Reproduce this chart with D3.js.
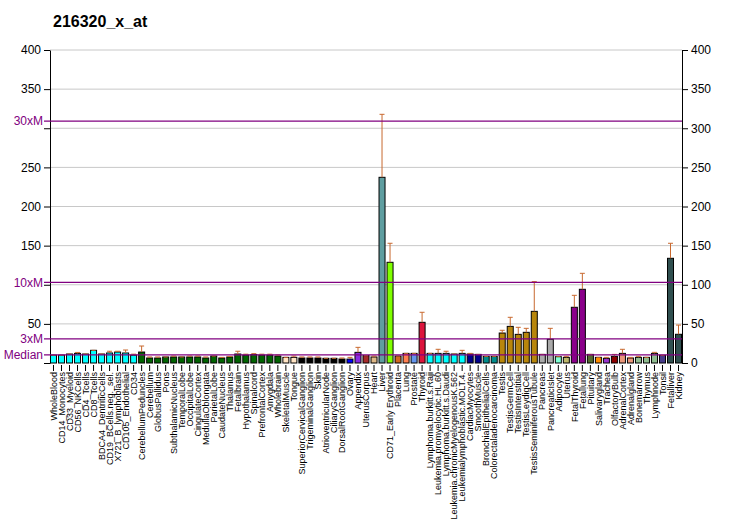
<!DOCTYPE html>
<html lang="en">
<head>
  <meta charset="UTF-8">
  <title>216320_x_at</title>
  <style>
    body {
      margin: 0;
      background: #fff;
      font-family: Arial, "Liberation Sans", sans-serif;
    }
    .tick text { font-family: Arial, "Liberation Sans", sans-serif; }
  </style>
</head>
<body>
  <svg id="chart"></svg>

  <script src="https://d3js.org/d3.v7.min.js"></script>
  <script>
    const tissues = [
      "WholeBlood", "CD14_Monocytes", "CD33_Myeloid", "CD56_NKCells", "CD4_Tcells", "CD8_Tcells",
      "BDCA4_DentriticCells", "CD19_BCells.neg._sel.", "X721_B_lymphoblasts", "CD105_Endothelial", "CD34",
      "CerebellumPeduncles", "Cerebellum", "GlobusPallidus", "Pons", "SubthalamicNucleus", "TemporalLobe",
      "OccipitalLobe", "CingulateCortex", "MedullaOblongata", "ParietalLobe", "CaudateNucleus", "Thalamus",
      "Fetalbrain", "Hypothalamus", "Spinalcord", "PrefrontalCortex", "Amygdala", "Wholebrain",
      "SkeletalMuscle", "Tongue", "SuperiorCervicalGanglion", "TrigeminalGanglion", "Skin",
      "AtrioventricularNode", "CiliaryGanglion", "DorsalRootGanglion", "Ovary", "Appendix", "UterusCorpus",
      "Heart", "Liver", "CD71_Early Erythroid", "Placenta", "Lung", "Prostate", "Thyroid",
      "Lymphoma.burkitt.s.Raji", "Leukemia.promyelocytic.HL.60", "Lymphoma.burkitt.s.Daudi",
      "Leukemia.chronicMyelogenousK.562", "Leukemialymphoblastic.MOLT.4.", "CardiacMyocytes", "SmoothMuscle",
      "BronchialEpithelialCells", "Colorectaladenocarcinoma", "Testis", "TestisGermCell", "TestisInterstitial",
      "TestisLeydigCell", "TestisSeminiferousTubule", "Pancreas", "PancreaticIslet", "Adipocyte", "Uterus",
      "FetalThyroid", "Fetallung", "Pituitary", "Salivarygland", "Trachea", "OlfactoryBulb", "AdrenalCortex",
      "Adrenalgland", "Bonemarrow", "Thymus", "Lymphnode", "Tonsil", "Fetalliver", "Kidney"
    ];

    const values = [
      10, 10, 11.5, 12.3, 11.5, 16.2, 11.5, 12.8, 14, 12.8, 10,
      14, 6.4, 6.4, 7.7, 7.7, 7.7, 7.7, 7.7, 6.4, 8.9, 6.4, 7.7,
      11.5, 10, 10.8, 10, 10, 8.9,
      7.2, 7.2, 6.4, 6.4, 6.4, 6, 6, 5.1, 5, 13.6, 9.4,
      7.7, 237.3, 128.7, 8.9, 12.3, 12.3, 52,
      12.3, 12.3, 12.3, 11.5, 12.3, 11.5, 11,
      8.5, 8.5, 38.3, 46.8, 36.6, 39.2, 66, 11, 30.3, 8.1, 7.2,
      71.2, 94.2, 11, 7.2, 6, 8.5, 12.3, 6.4, 7.2, 7.2, 12.3, 9.8, 133.8, 36.7
    ];

    const errors = [
      10, 10, 11.5, 13.5, 11.5, 16.2, 11.5, 15, 15, 16.6, 11.3,
      21.7, 7.7, 7.7, 7.7, 8.9, 7.7, 8.9, 8.9, 7.7, 8.9, 7.2, 8.4,
      15, 11.3, 12, 11.3, 11.3, 10.2,
      7.2, 8.9, 7.7, 7.7, 7.7, 6, 6, 6.4, 7.2, 20, 9.4,
      8.9, 317.8, 153, 8.9, 12.3, 12.3, 64.8,
      12.3, 17.5, 15, 11.5, 16.2, 12.3, 11,
      8.5, 8.5, 41.8, 58.4, 45.6, 44.3, 104, 11, 44.3, 8.1, 8.5,
      86.5, 114.6, 11, 7.2, 7.2, 11, 17.5, 7.2, 8.5, 7.2, 13.6, 9.8, 153, 48.5
    ];

    const colors = [
      ...Array(11).fill("#00FFFF"),
      ...Array(18).fill("#006400"),
      "#FFE4C4", "#FFE4C4",
      ...Array(6).fill("#000000"),
      "#0000FF", "#8A2BE2", "#A52A2A", "#DEB887", "#5F9EA0", "#7FFF00", "#D2691E", "#FF7F50", "#6495ED", "#DC143C",
      ...Array(5).fill("#00FFFF"),
      "#00008B", "#00008B", "#008B8B", "#008B8B",
      ...Array(5).fill("#B8860B"),
      "#A9A9A9", "#A9A9A9", "#7FFFD4", "#BDB76B", "#8B008B", "#8B008B", "#556B2F", "#FF8C00", "#9932CC",
      "#8B0000", "#E9967A", "#E9967A", "#8FBC8F", "#8FBC8F", "#8FBC8F", "#483D8B", "#2F4F4F", "#2F4F4F"
    ];

    const yTicks = [0, 50, 100, 150, 200, 250, 300, 350, 400];
    const leftLabels = ["", "50", "", "150", "200", "250", "", "350", "400"];
    const refLines = [
      { label: "Median", value: 10.3 },
      { label: "3xM", value: 30.9 },
      { label: "10xM", value: 103 },
      { label: "30xM", value: 309 }
    ];

    const width = 732, height = 530;
    const mLeft = 50, mRight = 682, mTop = 50, mBottom = 363;

    const svg = d3.select("#chart").attr("width", width).attr("height", height);

    const x = d3.scaleBand().domain(tissues).range([mLeft, mRight]).paddingInner(0.25).paddingOuter(0.06);
    const y = d3.scaleLinear().domain([0, 400]).range([mBottom, mTop]);

    svg.append("text")
      .attr("x", 53).attr("y", 27)
      .attr("font-size", 16).attr("font-weight", "bold")
      .text("216320_x_at");

    // grid
    svg.append("g").selectAll("line")
      .data(yTicks.filter(d => d > 0))
      .enter().append("line")
      .attr("x1", mLeft).attr("x2", mRight)
      .attr("y1", d => y(d)).attr("y2", d => y(d))
      .attr("stroke", "#c8c8c8").attr("stroke-width", 1);

    // left axis
    const leftAxis = svg.append("g")
      .attr("transform", `translate(${mLeft},0)`)
      .call(d3.axisLeft(y).tickValues(yTicks).tickFormat((d, i) => leftLabels[i]).tickSizeOuter(0));
    leftAxis.selectAll("text").attr("font-size", 12).attr("fill", "#000");

    // right axis
    const rightAxis = svg.append("g")
      .attr("transform", `translate(${mRight},0)`)
      .call(d3.axisRight(y).tickValues(yTicks).tickSizeOuter(0));
    rightAxis.selectAll("text").attr("font-size", 12).attr("fill", "#000");

    // x ticks
    const xAxis = svg.append("g")
      .attr("transform", `translate(0,${mBottom + 2})`)
      .call(d3.axisBottom(x).tickSize(6).tickSizeOuter(0).tickFormat(""));
    xAxis.select(".domain").remove();

    // bars
    svg.append("g").selectAll("rect")
      .data(tissues)
      .enter().append("rect")
      .attr("x", d => x(d))
      .attr("width", x.bandwidth())
      .attr("y", (d, i) => y(values[i]))
      .attr("height", (d, i) => y(0) - y(values[i]))
      .attr("fill", (d, i) => colors[i])
      .attr("stroke", "#000").attr("stroke-width", 1);

    // error bars
    const eb = svg.append("g").attr("stroke", "#c8692f").attr("stroke-width", 1);
    tissues.forEach((d, i) => {
      if (errors[i] <= values[i] + 0.5) {
        eb.append("line")
          .attr("x1", x(d) + 1).attr("x2", x(d) + x.bandwidth() - 1)
          .attr("y1", y(errors[i])).attr("y2", y(errors[i]));
        return;
      }
      const cx = x(d) + x.bandwidth() / 2;
      eb.append("line").attr("x1", cx).attr("x2", cx)
        .attr("y1", y(values[i])).attr("y2", y(errors[i]));
      eb.append("line").attr("x1", cx - 2.5).attr("x2", cx + 2.5)
        .attr("y1", y(errors[i])).attr("y2", y(errors[i]));
    });

    // reference lines
    const ref = svg.append("g");
    ref.selectAll("line")
      .data(refLines).enter().append("line")
      .attr("x1", mLeft - 6).attr("x2", mRight)
      .attr("y1", d => y(d.value)).attr("y2", d => y(d.value))
      .attr("stroke", "#800080").attr("stroke-width", 1.2);
    ref.selectAll("text")
      .data(refLines).enter().append("text")
      .attr("x", mLeft - 7).attr("y", d => y(d.value))
      .attr("dy", "0.35em")
      .attr("text-anchor", "end")
      .attr("font-size", 12)
      .attr("fill", "#800080")
      .text(d => d.label);

    // category labels
    svg.append("g").selectAll("text")
      .data(tissues)
      .enter().append("text")
      .attr("transform", d => `translate(${x(d) + x.bandwidth() / 2 + 3.2},${mBottom + 9}) rotate(-90)`)
      .attr("text-anchor", "end")
      .attr("font-size", 9)
      .text(d => d);
  </script>
</body>
</html>
